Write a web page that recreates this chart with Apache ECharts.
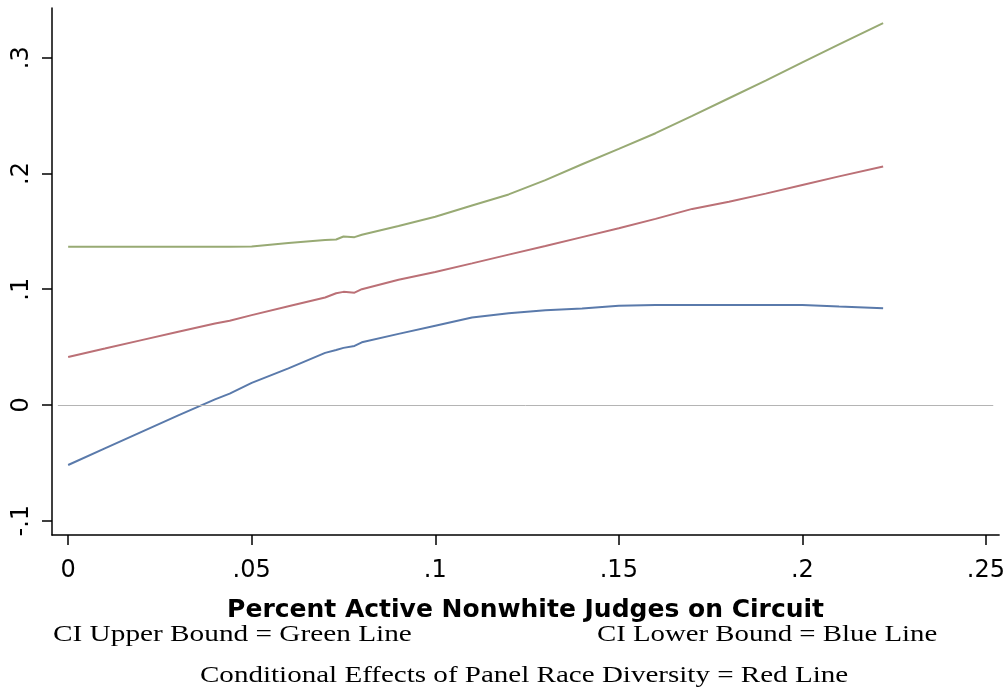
<!DOCTYPE html>
<html>
<head>
<meta charset="utf-8">
<script src="https://cdn.jsdelivr.net/npm/echarts@6/dist/echarts.min.js"></script>
<style>html,body{margin:0;padding:0;background:#fff}#c{width:1008px;height:694px}</style>
</head>
<body>
<div id="c"></div>
<script>
var xValues = [0, 0.01, 0.02, 0.03, 0.04, 0.044, 0.05, 0.06, 0.07, 0.073, 0.075, 0.078, 0.08, 0.09, 0.1, 0.11, 0.12, 0.13, 0.14, 0.15, 0.16, 0.17, 0.18, 0.19, 0.2, 0.21, 0.222];
var upperGreen = [0.1366, 0.1366, 0.1366, 0.1366, 0.1366, 0.1366, 0.137, 0.140, 0.1426, 0.143, 0.1455, 0.145, 0.147, 0.1547, 0.1626, 0.1723, 0.1819, 0.1943, 0.208, 0.2212, 0.2348, 0.2498, 0.265, 0.2803, 0.296, 0.3116, 0.330];
var effectRed = [0.0415, 0.0487, 0.056, 0.0633, 0.0704, 0.0728, 0.0776, 0.0853, 0.0928, 0.0965, 0.0977, 0.097, 0.100, 0.1082, 0.1148, 0.1223, 0.1299, 0.1373, 0.145, 0.1526, 0.1608, 0.1694, 0.1755, 0.1826, 0.190, 0.1975, 0.206];
var lowerBlue = [-0.0519, -0.0376, -0.0233, -0.0091, 0.0048, 0.0098, 0.019, 0.0316, 0.045, 0.0475, 0.0493, 0.051, 0.0541, 0.0614, 0.0685, 0.0755, 0.0792, 0.0819, 0.0833, 0.0856, 0.0864, 0.0864, 0.0864, 0.0864, 0.0864, 0.0851, 0.0836];
var xTicks = [0, 0.05, 0.1, 0.15, 0.2, 0.25];
var yTicks = [-0.1, 0, 0.1, 0.2, 0.3];
var xTitle = 'Percent Active Nonwhite Judges on Circuit';
var caption1Left = 'CI Upper Bound = Green Line';
var caption1Right = 'CI Lower Bound = Blue Line';
var caption2 = 'Conditional Effects of Panel Race Diversity = Red Line';

function pairs(ys){ return xValues.map(function(x,i){ return [x, ys[i]]; }); }
function fmt(v){
  if (Math.abs(v) < 1e-9) return '0';
  return String(+v.toFixed(2)).replace('0.', '.');
}
var chart = echarts.init(document.getElementById('c'), null, {renderer:'canvas'});
var axisCommon = {
  axisLine: {show:true, onZero:false, lineStyle:{color:'#000', width:1.5}},
  axisTick: {show:true, inside:false, length:10, lineStyle:{color:'#000', width:1.5}},
  splitLine: {show:false}
};
var serif = '24px "Liberation Serif", "Times New Roman", serif';
chart.setOption({
  animation:false,
  backgroundColor:'#fff',
  grid:{left:52, right:7, top:8, bottom:159},
  xAxis: Object.assign({}, axisCommon, {
    type:'value', min:-0.0044, max:0.2536,
    axisTick: Object.assign({}, axisCommon.axisTick, {customValues: xTicks}),
    axisLabel:{customValues: xTicks, formatter: fmt, margin:24, fontSize:24, color:'#000', fontFamily:'DejaVu Sans'},
    name: xTitle, nameLocation:'middle', nameGap:63,
    nameTextStyle:{fontSize:25, fontWeight:'bold', color:'#000', fontFamily:'DejaVu Sans'}
  }),
  yAxis: Object.assign({}, axisCommon, {
    type:'value', min:-0.1124, max:0.343,
    axisTick: Object.assign({}, axisCommon.axisTick, {customValues: yTicks}),
    axisLabel:{customValues: yTicks, formatter: fmt, rotate:90, margin:18, fontSize:24, color:'#000', fontFamily:'DejaVu Sans'}
  }),
  series:[
    {type:'line', name:'Upper', data:pairs(upperGreen), showSymbol:false, symbol:'none', lineStyle:{color:'#98aa74', width:2}, z:3,
     markLine:{silent:true, symbol:'none', label:{show:false}, lineStyle:{color:'#b4b4b4', width:1, type:'solid'},
       data:[[{coord:[-0.0028,0]},{coord:[0.252,0]}]]}},
    {type:'line', name:'Effect', data:pairs(effectRed), showSymbol:false, symbol:'none', lineStyle:{color:'#bb7076', width:2}, z:3},
    {type:'line', name:'Lower', data:pairs(lowerBlue), showSymbol:false, symbol:'none', lineStyle:{color:'#5a7aab', width:2}, z:3}
  ],
  graphic:[
    {type:'text', x:53, y:623, scaleX:1.22, style:{text:caption1Left, font:serif, fill:'#000'}},
    {type:'text', x:597, y:623, scaleX:1.2, style:{text:caption1Right, font:serif, fill:'#000'}},
    {type:'text', x:200, y:664, scaleX:1.21, style:{text:caption2, font:serif, fill:'#000'}}
  ]
});
</script>
</body>
</html>
